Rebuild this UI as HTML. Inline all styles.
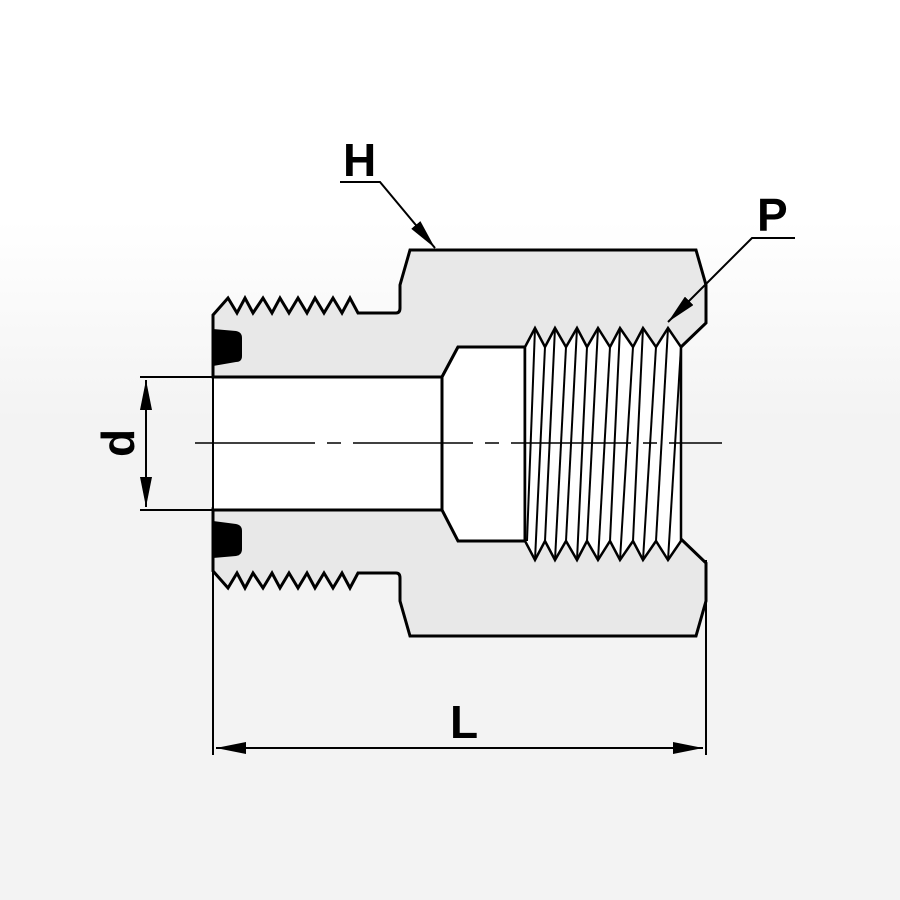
<!DOCTYPE html>
<html><head><style>
html,body{margin:0;padding:0}
body{width:900px;height:900px;background:linear-gradient(#fff 0,#fff 220px,#f3f3f3 420px,#f3f3f3 900px);overflow:hidden}
</style></head><body>
<svg width="900" height="900" viewBox="0 0 900 900" xmlns="http://www.w3.org/2000/svg" style="position:absolute;left:0;top:0">
<defs>
<marker id="b" viewBox="0 0 30 12" refX="30" refY="6" markerWidth="30" markerHeight="12" markerUnits="userSpaceOnUse" orient="auto-start-reverse"><path d="M0,0 L30,6 L0,12z" fill="#000"/></marker>
</defs>
<g id="top">
<path d="M213,315 L228,298 L237,313 L245,298 L253,313 L263,298 L272,313 L280,298 L289,313 L298,298 L307,313 L315,298 L324,313 L333,298 L342,313 L350,298 L358,313 L396,313 Q400,313 400,308 L400,285 L410,250 L696,250 L706,285 L706,323 L681,347 L458,347 L442,377 L213,377 Z" fill="#e8e8e8" stroke="#000" stroke-width="3" stroke-linejoin="miter"/>
</g>
<use href="#top" transform="translate(0,886) scale(1,-1)"/>
<rect x="213" y="377" width="229" height="133" fill="#fff"/>
<path d="M442,377 L458,347 L525,347 L525,541 L458,541 L442,510 Z" fill="#fff" stroke="#000" stroke-width="3"/>
<path d="M213,377 L442,377 M213,510 L442,510" stroke="#000" stroke-width="3"/>
<path d="M525,347 L535,328 L545,347 L555,328 L566,347 L577,328 L587,347 L598,328 L610,347 L620,328 L633,347 L643,328 L656,347 L668,328 L681,347 L681,541 L668,560 L656,541 L643,560 L633,541 L620,560 L610,541 L598,560 L587,541 L577,560 L566,541 L555,560 L545,541 L535,560 L525,541 Z" fill="#fff" stroke="#000" stroke-width="2.5" stroke-linejoin="miter"/>
<g stroke="#000" stroke-width="2">
<line x1="535" y1="328" x2="527" y2="541"/><line x1="545" y1="347" x2="535" y2="560"/>
<line x1="555" y1="328" x2="545" y2="541"/><line x1="566" y1="347" x2="555" y2="560"/>
<line x1="577" y1="328" x2="566" y2="541"/><line x1="587" y1="347" x2="577" y2="560"/>
<line x1="598" y1="328" x2="587" y2="541"/><line x1="610" y1="347" x2="598" y2="560"/>
<line x1="620" y1="328" x2="610" y2="541"/><line x1="633" y1="347" x2="620" y2="560"/>
<line x1="643" y1="328" x2="633" y2="541"/><line x1="656" y1="347" x2="643" y2="560"/>
<line x1="668" y1="328" x2="656" y2="541"/><line x1="681" y1="347" x2="668" y2="560"/>
</g>
<path d="M213,329 L236,331 Q242,332 242,338 L242,356 Q242,362 236,362 L213,366 Z" fill="#000"/>
<path d="M213,521 L236,524 Q242,525 242,531 L242,549 Q242,555 236,556 L213,558 Z" fill="#000"/>
<g stroke="#000" stroke-width="2" fill="none">
<line x1="213" y1="315" x2="213" y2="755"/>
<line x1="706" y1="560" x2="706" y2="755"/>
<line x1="140" y1="377" x2="213" y2="377"/>
<line x1="140" y1="510" x2="213" y2="510"/>
<line x1="195" y1="443" x2="722" y2="443" stroke-dasharray="120,12,14,12" stroke-width="1.5"/>
<line x1="146" y1="380" x2="146" y2="507" marker-start="url(#b)" marker-end="url(#b)"/>
<line x1="216" y1="748" x2="703" y2="748" marker-start="url(#b)" marker-end="url(#b)"/>
<polyline points="340,182 380,182 435,248" marker-end="url(#b)"/>
<polyline points="795,238 752,238 668,322" marker-end="url(#b)"/>
</g>
<g font-family="Liberation Sans, sans-serif" font-size="46" font-weight="bold" fill="#000">
<text x="343" y="176">H</text>
<text x="757" y="231">P</text>
<text x="450" y="738">L</text>
<text transform="translate(134,443) rotate(-90)" text-anchor="middle">d</text>
</g>
</svg>
</body></html>
